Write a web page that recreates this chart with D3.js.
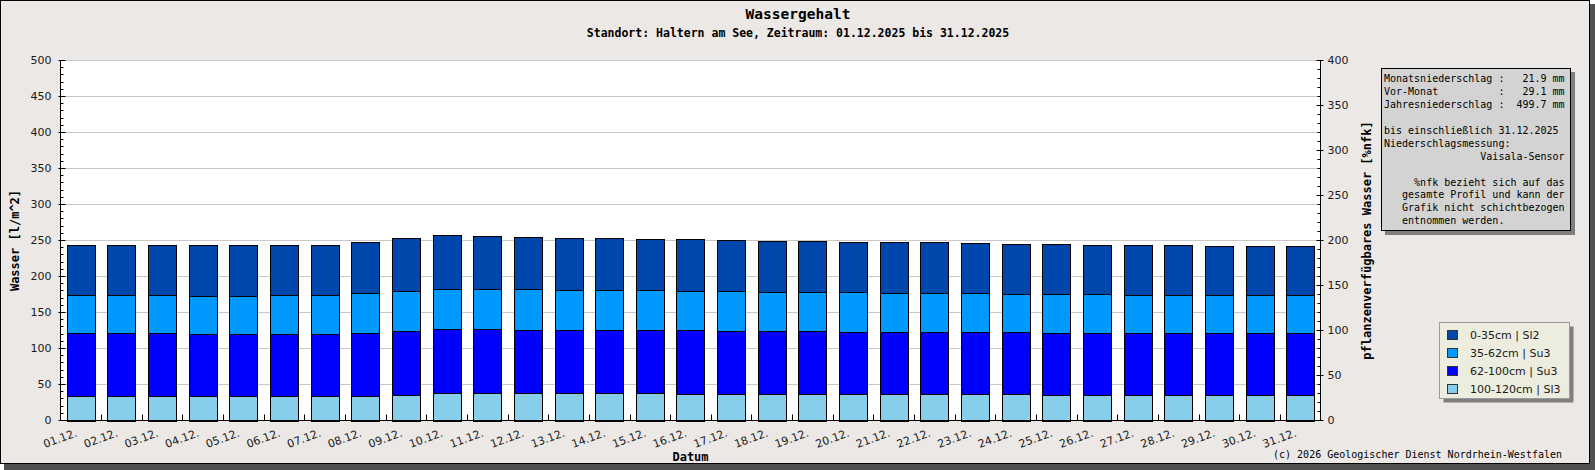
<!DOCTYPE html>
<html><head><meta charset="utf-8">
<script src="https://cdn.jsdelivr.net/npm/d3@7"></script>
<style>body{margin:0;background:#fff;} svg{display:block;}</style>
</head><body><svg id="c" width="1595" height="470"></svg>
<script>
const categories = ["01.12.","02.12.","03.12.","04.12.","05.12.","06.12.","07.12.","08.12.","09.12.","10.12.","11.12.","12.12.","13.12.","14.12.","15.12.","16.12.","17.12.","18.12.","19.12.","20.12.","21.12.","22.12.","23.12.","24.12.","25.12.","26.12.","27.12.","28.12.","29.12.","30.12.","31.12."];
// layer values in l/m^2 (bottom to top)
const layer100_120 = [34.2,34.2,34.2,34.2,34.2,34.2,34.2,34.2,36.1,38.8,38.8,38.8,38.8,38.8,38.8,37.5,37.5,37.5,37.5,37.5,37.5,37.5,37.5,37.5,36.1,36.1,36.1,36.1,36.1,36.1,36.1];
const layer62_100 = [88.0,88.0,88.0,86.6,86.6,86.6,86.6,88.0,87.9,88.9,88.9,87.5,87.5,87.5,87.5,88.8,87.5,87.5,87.5,86.1,86.1,86.1,86.1,86.1,86.1,86.1,86.1,86.1,86.1,86.1,86.1];
const layer35_62 = [52.8,52.8,52.8,52.8,52.8,54.2,54.2,55.5,56.5,55.1,55.1,56.5,55.1,55.1,55.1,53.7,55.0,54.1,54.1,55.5,54.1,54.1,54.1,52.7,54.1,54.1,52.8,52.8,52.8,52.8,52.8];
const layer0_35 = [68.5,68.5,68.5,69.9,69.9,68.5,68.5,70.9,73.6,75.5,74.1,72.7,72.7,72.7,71.3,72.7,71.3,70.9,70.9,69.5,70.9,70.9,69.5,69.5,69.5,68.1,69.4,69.4,68.0,68.0,68.0];
const seriesNames = ["0-35cm | Sl2","35-62cm | Su3","62-100cm | Su3","100-120cm | Sl3"];
const seriesColors = ["#0047ab","#0099ff","#0000ff","#87ceeb"];
const leftTicks = [0,50,100,150,200,250,300,350,400,450,500];
const rightTicks = [0,50,100,150,200,250,300,350,400];
const titleText = "Wassergehalt";
const subtitleText = "Standort: Haltern am See, Zeitraum: 01.12.2025 bis 31.12.2025";
const yLeftLabel = "Wasser [l/m^2]";
const yRightLabel = "pflanzenverfügbares Wasser [%nfk]";
const xLabel = "Datum";
const infoLines = [
 "Monatsniederschlag :   21.9 mm",
 "Vor-Monat          :   29.1 mm",
 "Jahresniederschlag :  499.7 mm",
 "",
 "bis einschließlich 31.12.2025",
 "Niederschlagsmessung:",
 "                Vaisala-Sensor",
 "",
 "     %nfk bezieht sich auf das",
 "   gesamte Profil und kann der",
 "   Grafik nicht schichtbezogen",
 "   entnommen werden."
];
const copyright = "(c) 2026 Geologischer Dienst Nordrhein-Westfalen";

const svg = d3.select("#c");
const MONO = "'DejaVu Sans Mono', 'Liberation Mono', monospace";
const SANS = "'DejaVu Sans', sans-serif";

// frame
svg.append("rect").attr("x",4).attr("y",4).attr("width",1591).attr("height",466).attr("fill","#505050");
svg.append("rect").attr("x",0.5).attr("y",0.5).attr("width",1589).attr("height",463).attr("fill","#ebe8e6").attr("stroke","#000");

const L = 60.5, R = 1320.5, T = 60.5, B = 420.5;
const x = d3.scaleBand().domain(categories).range([L,R]).paddingInner(0.31).paddingOuter(0.155);
const y = d3.scaleLinear().domain([0,500]).range([B,T]);
const y2 = d3.scaleLinear().domain([0,400]).range([B,T]);

svg.append("rect").attr("x",L).attr("y",T).attr("width",R-L).attr("height",B-T).attr("fill","#fff");

// gridlines
svg.append("g").selectAll("line").data(leftTicks).join("line")
  .attr("x1",L).attr("x2",R).attr("y1",d=>Math.round(y(d)-0.5)+0.5).attr("y2",d=>Math.round(y(d)-0.5)+0.5)
  .attr("stroke","#c8c8c8");

// bars
const rows = categories.map((c,i)=>({cat:c, l100:layer100_120[i], l62:layer62_100[i], l35:layer35_62[i], l0:layer0_35[i]}));
const keys = ["l100","l62","l35","l0"];
const colorOf = {l100:seriesColors[3], l62:seriesColors[2], l35:seriesColors[1], l0:seriesColors[0]};
const stacked = d3.stack().keys(keys)(rows);
svg.append("g").selectAll("g").data(stacked).join("g").attr("fill",s=>colorOf[s.key])
  .selectAll("rect").data(s=>s).join("rect")
  .attr("x",d=>Math.round(x(d.data.cat))+0.5)
  .attr("width",Math.round(x.bandwidth()))
  .attr("y",d=>Math.round(y(d[1]))+0.5)
  .attr("height",d=>Math.round(y(d[0]))-Math.round(y(d[1])))
  .attr("stroke","#000").attr("stroke-width",1);

// axes lines
const ax = svg.append("g").attr("stroke","#000");
ax.append("line").attr("x1",L).attr("x2",L).attr("y1",T).attr("y2",B);
ax.append("line").attr("x1",R).attr("x2",R).attr("y1",T).attr("y2",B);
ax.append("line").attr("x1",L).attr("x2",R).attr("y1",B).attr("y2",B);

// left ticks
const minorL = d3.range(0,501,10), minorR = d3.range(0,401,10);
ax.append("g").selectAll("line").data(minorL).join("line")
  .attr("x1",d=>d%50===0?L-2:L).attr("x2",d=>d%50===0?L+5:L+3)
  .attr("y1",d=>Math.round(y(d)-0.5)+0.5).attr("y2",d=>Math.round(y(d)-0.5)+0.5);
ax.append("g").selectAll("line").data(minorR).join("line")
  .attr("x1",d=>d%50===0?R-4:R-3).attr("x2",d=>d%50===0?R+3:R)
  .attr("y1",d=>Math.round(y2(d)-0.5)+0.5).attr("y2",d=>Math.round(y2(d)-0.5)+0.5);
// x ticks at band boundaries
const step = x.step();
ax.append("g").selectAll("line").data(categories.slice(1)).join("line")
  .attr("x1",d=>Math.round(x(d)-(step-x.bandwidth())/2)+0.5).attr("x2",d=>Math.round(x(d)-(step-x.bandwidth())/2)+0.5)
  .attr("y1",B).attr("y2",B-6);

// tick labels
svg.append("g").selectAll("text").data(leftTicks).join("text")
  .attr("x",L-9).attr("y",d=>y(d)).attr("dy","0.36em").attr("text-anchor","end")
  .attr("font-family",SANS).attr("font-size",11).attr("fill","#1a1a1a").text(d=>d);
svg.append("g").selectAll("text").data(rightTicks).join("text")
  .attr("x",R+7).attr("y",d=>y2(d)).attr("dy","0.36em").attr("text-anchor","start")
  .attr("font-family",SANS).attr("font-size",11).attr("fill","#1a1a1a").text(d=>d);
svg.append("g").selectAll("text").data(categories).join("text")
  .attr("transform",d=>`translate(${x(d)+x.bandwidth()/2-3},436) rotate(-20)`)
  .attr("text-anchor","end").attr("font-family",SANS).attr("font-size",11).attr("fill","#1a1a1a").text(d=>d);

// titles
svg.append("text").attr("x",798).attr("y",19).attr("text-anchor","middle").attr("font-family",MONO)
  .attr("font-weight","bold").attr("font-size",14.5).text(titleText);
svg.append("text").attr("x",798).attr("y",37).attr("text-anchor","middle").attr("font-family",MONO)
  .attr("font-weight","bold").attr("font-size",11.5).text(subtitleText);
svg.append("text").attr("transform",`translate(19,${(T+B)/2}) rotate(-90)`).attr("text-anchor","middle")
  .attr("font-family",MONO).attr("font-weight","bold").attr("font-size",12).text(yLeftLabel);
svg.append("text").attr("transform",`translate(1371,${(T+B)/2}) rotate(-90)`).attr("text-anchor","middle")
  .attr("font-family",MONO).attr("font-weight","bold").attr("font-size",12).text(yRightLabel);
svg.append("text").attr("x",(L+R)/2).attr("y",461).attr("text-anchor","middle")
  .attr("font-family",MONO).attr("font-weight","bold").attr("font-size",12).text(xLabel);

// info box
svg.append("rect").attr("x",1385).attr("y",72).attr("width",190).attr("height",163).attr("fill","#7f7f7f");
svg.append("rect").attr("x",1381.5).attr("y",68.5).attr("width",189).attr("height",162).attr("fill","#d3d3d3").attr("stroke","#000");
svg.append("g").selectAll("text").data(infoLines).join("text")
  .attr("x",1384).attr("y",(d,i)=>82.3+i*12.9).attr("xml:space","preserve").style("white-space","pre")
  .attr("font-family",MONO).attr("font-size",10).attr("fill","#000").text(d=>d);

// legend
svg.append("rect").attr("x",1443.5).attr("y",326.5).attr("width",130).attr("height",76).attr("fill","#7f7f7f");
svg.append("rect").attr("x",1439.5).attr("y",322.5).attr("width",130).attr("height",76).attr("fill","#ececdf").attr("stroke","#9a9a9a");
const lg = svg.append("g").selectAll("g").data(seriesNames).join("g")
  .attr("transform",(d,i)=>`translate(0,${i*18})`);
lg.append("rect").attr("x",1447.5).attr("y",330.5).attr("width",10).attr("height",9)
  .attr("fill",(d,i)=>seriesColors[i]).attr("stroke","#333");
lg.append("text").attr("x",1470).attr("y",339).attr("font-family",SANS).attr("font-size",11).attr("fill","#1a1a1a").text(d=>d);

// copyright
svg.append("text").attr("x",1562).attr("y",458).attr("text-anchor","end").attr("font-family",MONO)
  .attr("font-size",10).attr("fill","#000").text(copyright);
</script></body></html>
